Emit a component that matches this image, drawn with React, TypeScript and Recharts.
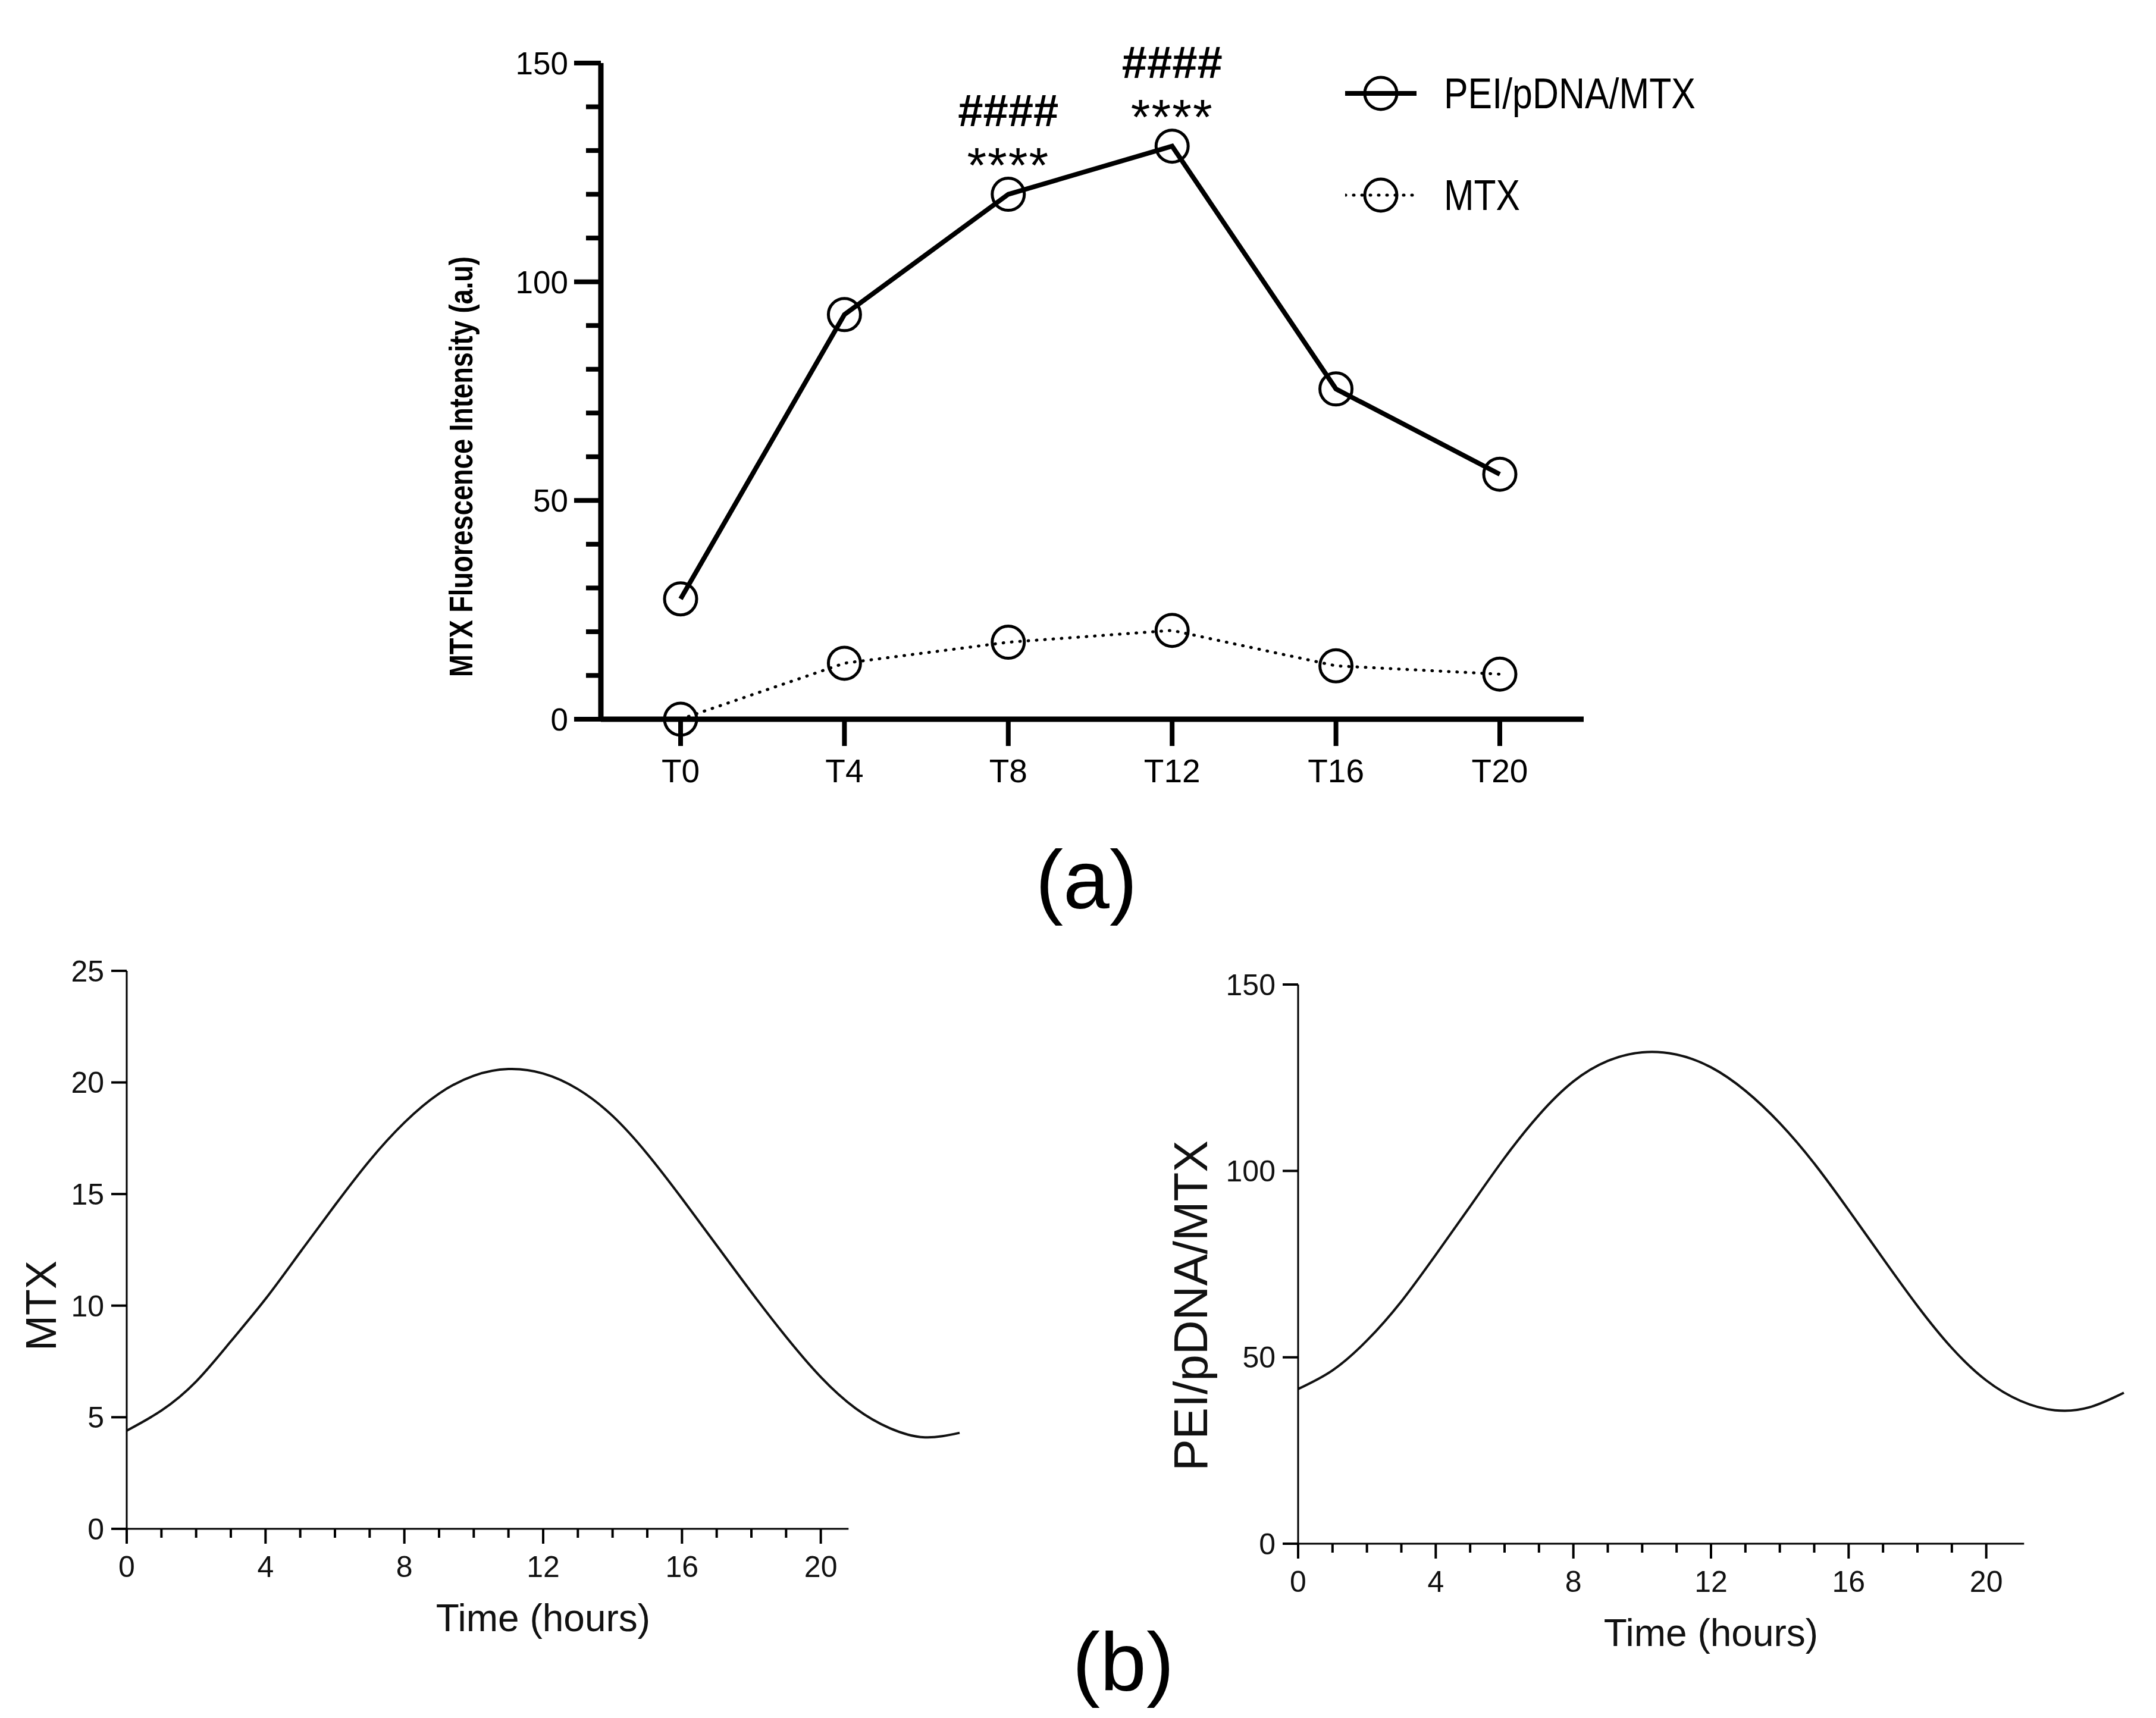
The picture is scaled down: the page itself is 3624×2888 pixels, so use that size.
import React from "react";
import {
  LineChart,
  Line,
  XAxis,
  YAxis,
  Legend,
  LabelList,
  ReferenceLine,
} from "recharts";

const FONT = '"Liberation Sans", Arial, Helvetica, sans-serif';

// panel (a): mean fluorescence per sampling time
const timepoints = ["T0", "T4", "T8", "T12", "T16", "T20"];
const peiValues = [27.5, 92.5, 120, 131, 75.5, 56];
const mtxValues = [0, 12.8, 17.6, 20.3, 12.2, 10.3];
const starMarks = ["", "", "****", "****", "", ""];
const hashMarks = ["", "", "####", "####", "", ""];
const yTicksA = [0, 10, 20, 30, 40, 50, 60, 70, 80, 90, 100, 110, 120, 130, 140, 150];

// panel (b): fitted rhythm curves, sampled every hour
const hours = [0, 1, 2, 3, 4, 5, 6, 7, 8, 9, 10, 11, 12, 13, 14, 15, 16, 17, 18, 19, 20, 21, 22, 23, 24];
const mtxCurve = [4.4, 5.3, 6.6, 8.4, 10.3, 12.4, 14.5, 16.5, 18.2, 19.5, 20.3, 20.6, 20.4, 19.7, 18.5, 16.8, 14.8, 12.7, 10.6, 8.6, 6.8, 5.4, 4.5, 4.1, 4.3];
const peiCurve = [41.5, 46.5, 54.5, 65.0, 77.5, 90.5, 103.5, 115.0, 124.0, 129.5, 131.8, 131.2, 127.8, 121.5, 112.8, 102.0, 89.5, 76.5, 63.8, 52.5, 43.8, 38.3, 35.8, 36.6, 40.5];
const hourTicks = [0, 1, 2, 3, 4, 5, 6, 7, 8, 9, 10, 11, 12, 13, 14, 15, 16, 17, 18, 19, 20];
const mtxTicks = [0, 5, 10, 15, 20, 25];
const peiTicks = [0, 50, 100, 150];

const panelAData = timepoints.map((t, i) => ({
  time: t,
  pei: peiValues[i],
  mtx: mtxValues[i],
}));
const mtxCurveData = hours.map((h, i) => ({ hour: h, value: mtxCurve[i] }));
const peiCurveData = hours.map((h, i) => ({ hour: h, value: peiCurve[i] }));

const legendItems = [
  { name: "PEI/pDNA/MTX", dotted: false, textWidth: 423 },
  { name: "MTX", dotted: true, textWidth: 128 },
];

const Y_TICK_SIZE_A = 45;
const Y_TICK_MARGIN_A = 10;

function YTickA(props: any) {
  const { x, y, payload } = props;
  const major = payload.value % 50 === 0;
  const axisX = x + Y_TICK_SIZE_A + Y_TICK_MARGIN_A;
  return (
    <g>
      <line
        x1={axisX}
        x2={axisX - (major ? Y_TICK_SIZE_A : 25)}
        y1={y}
        y2={y}
        stroke="#000"
        strokeWidth={8}
      />
      {major && (
        <text x={x} y={y} dy="0.36em" textAnchor="end" fontSize={53} fontFamily={FONT} fill="#000">
          {payload.value}
        </text>
      )}
    </g>
  );
}

function SignificanceLabel(props: any) {
  const { x, y, index } = props;
  if (!starMarks[index]) return null;
  return (
    <g fontFamily={FONT} fill="#000" textAnchor="middle">
      <text x={x} y={y - 142 + 27} fontSize={76} fontWeight="bold">
        {hashMarks[index]}
      </text>
      <text x={x} y={y - 69 + 49} fontSize={84} letterSpacing={2}>
        {starMarks[index]}
      </text>
    </g>
  );
}

function LegendA() {
  return (
    <div>
      {legendItems.map((item) => (
        <svg key={item.name} width={700} height={80} style={{ display: "block", marginBottom: 91 }}>
          <line
            x1={0}
            x2={120}
            y1={40}
            y2={40}
            stroke="#000"
            strokeWidth={item.dotted ? 5 : 8}
            strokeDasharray={item.dotted ? "1 13" : undefined}
            strokeLinecap={item.dotted ? "round" : "butt"}
          />
          <circle cx={60} cy={40} r={27} fill="none" stroke="#000" strokeWidth={5} />
          <text
            x={166}
            y={40}
            dominantBaseline="central"
            fontSize={72}
            fontFamily={FONT}
            fill="#000"
            textLength={item.textWidth}
            lengthAdjust="spacingAndGlyphs"
          >
            {item.name}
          </text>
        </svg>
      ))}
    </div>
  );
}

function PanelA() {
  return (
    <div style={{ position: "absolute", left: 0, top: 0 }}>
      <LineChart
        width={3624}
        height={1400}
        data={panelAData}
        margin={{ top: 106, right: 962, bottom: 0, left: 0 }}
      >
        <XAxis
          dataKey="time"
          padding={{ left: 134, right: 141 }}
          height={191}
          axisLine={{ stroke: "#000", strokeWidth: 9 }}
          tickLine={{ stroke: "#000", strokeWidth: 8 }}
          tickSize={45}
          tickMargin={22}
          tick={{ fontSize: 55, fontFamily: FONT, fill: "#000" }}
          interval={0}
        />
        <YAxis
          domain={[0, 150]}
          ticks={yTicksA}
          width={1010}
          interval={0}
          axisLine={{ stroke: "#000", strokeWidth: 9 }}
          tickLine={false}
          tickSize={Y_TICK_SIZE_A}
          tickMargin={Y_TICK_MARGIN_A}
          tick={(p: any) => <YTickA {...p} />}
          label={({ viewBox }: any) => {
            const cx = viewBox.x + viewBox.width - 236;
            const cy = viewBox.y + viewBox.height / 2 + 127;
            return (
              <text
                x={cx}
                y={cy}
                transform={`rotate(-90, ${cx}, ${cy})`}
                textAnchor="middle"
                dominantBaseline="central"
                fontSize={56}
                fontWeight="bold"
                fontFamily={FONT}
                fill="#000"
                textLength={707}
                lengthAdjust="spacingAndGlyphs"
              >
                MTX Fluorescence Intensity (a.u)
              </text>
            );
          }}
        />
        <Legend
          layout="vertical"
          align="center"
          verticalAlign="middle"
          wrapperStyle={{ left: 2261, top: 117, width: 700 }}
          content={() => <LegendA />}
        />
        <Line
          dataKey="mtx"
          name="MTX"
          type="linear"
          stroke="#000"
          strokeWidth={5}
          strokeDasharray="1 13"
          strokeLinecap="round"
          dot={{ r: 27, fill: "none", stroke: "#000", strokeWidth: 5, strokeDasharray: "none" }}
          activeDot={false}
          isAnimationActive={false}
        />
        <Line
          dataKey="pei"
          name="PEI/pDNA/MTX"
          type="linear"
          stroke="#000"
          strokeWidth={8}
          dot={{ r: 27, fill: "none", stroke: "#000", strokeWidth: 5 }}
          activeDot={false}
          isAnimationActive={false}
        >
          <LabelList dataKey="pei" content={(p: any) => <SignificanceLabel {...p} />} />
        </Line>
      </LineChart>
    </div>
  );
}

const X_TICK_SIZE_B = 25;
const X_TICK_MARGIN_B = 18;

function HourTick(props: any) {
  const { x, y, payload } = props;
  const major = payload.value % 4 === 0;
  const axisY = y - X_TICK_SIZE_B - X_TICK_MARGIN_B;
  return (
    <g>
      <line x1={x} x2={x} y1={axisY} y2={axisY + (major ? X_TICK_SIZE_B : 15)} stroke="#000" strokeWidth={4} />
      {major && (
        <text x={x} y={y} dy="0.76em" textAnchor="middle" fontSize={50} fontFamily={FONT} fill="#111">
          {payload.value}
        </text>
      )}
    </g>
  );
}

type CurvePanelProps = {
  left: number;
  width: number;
  data: { hour: number; value: number }[];
  yMax: number;
  yTicks: number[];
  yAxisWidth: number;
  marginTop: number;
  marginRight: number;
  xAxisHeight: number;
  axisEnd: number;
  yLabel: string;
  yLabelSize: number;
  yLabelDx: number;
  yLabelDy: number;
};

function CurvePanel(p: CurvePanelProps) {
  return (
    <div style={{ position: "absolute", left: p.left, top: 1500 }}>
      <LineChart
        width={p.width}
        height={1388}
        data={p.data}
        margin={{ top: p.marginTop, right: p.marginRight, bottom: 0, left: 0 }}
      >
        <XAxis
          dataKey="hour"
          type="number"
          domain={[0, 24]}
          ticks={hourTicks}
          interval={0}
          height={p.xAxisHeight}
          axisLine={false}
          tickLine={false}
          tickSize={X_TICK_SIZE_B}
          tickMargin={X_TICK_MARGIN_B}
          tick={(t: any) => <HourTick {...t} />}
          label={({ viewBox }: any) => (
            <text
              x={viewBox.x + viewBox.width / 2}
              y={viewBox.y + 150}
              textAnchor="middle"
              dominantBaseline="central"
              fontSize={64}
              fontFamily={FONT}
              fill="#111"
            >
              Time (hours)
            </text>
          )}
        />
        <YAxis
          domain={[0, p.yMax]}
          ticks={p.yTicks}
          interval={0}
          width={p.yAxisWidth}
          axisLine={{ stroke: "#000", strokeWidth: 3 }}
          tickLine={{ stroke: "#000", strokeWidth: 4 }}
          tickSize={26}
          tickMargin={12}
          tick={{ fontSize: 50, fontFamily: FONT, fill: "#111" }}
          label={({ viewBox }: any) => {
            const cx = viewBox.x + viewBox.width - p.yLabelDx;
            const cy = viewBox.y + viewBox.height / 2 + p.yLabelDy;
            return (
              <text
                x={cx}
                y={cy}
                transform={`rotate(-90, ${cx}, ${cy})`}
                textAnchor="middle"
                dominantBaseline="central"
                fontSize={p.yLabelSize}
                fontFamily={FONT}
                fill="#111"
              >
                {p.yLabel}
              </text>
            );
          }}
        />
        <ReferenceLine
          segment={[
            { x: 0, y: 0 },
            { x: p.axisEnd, y: 0 },
          ]}
          stroke="#000"
          strokeWidth={3}
        />
        <Line
          dataKey="value"
          type="natural"
          stroke="#111"
          strokeWidth={4}
          dot={false}
          activeDot={false}
          isAnimationActive={false}
        />
      </LineChart>
    </div>
  );
}

const panelLetter: React.CSSProperties = {
  position: "absolute",
  fontFamily: FONT,
  fontSize: 140,
  lineHeight: 1,
  color: "#000",
  transform: "translate(-50%, -50%)",
};

export default function App() {
  return (
    <div style={{ position: "absolute", left: 0, top: 0, width: 3624, height: 2888, background: "#fff" }}>
      <PanelA />
      <div style={{ ...panelLetter, left: 1826, top: 1479 }}>(a)</div>
      <CurvePanel
        left={0}
        width={1800}
        data={mtxCurveData}
        yMax={25}
        yTicks={mtxTicks}
        yAxisWidth={213}
        marginTop={132}
        marginRight={187}
        xAxisHeight={318}
        axisEnd={20.8}
        yLabel="MTX"
        yLabelSize={72}
        yLabelDx={144}
        yLabelDy={94}
      />
      <CurvePanel
        left={1800}
        width={1824}
        data={peiCurveData}
        yMax={150}
        yTicks={peiTicks}
        yAxisWidth={382}
        marginTop={155}
        marginRight={54}
        xAxisHeight={293}
        axisEnd={21.1}
        yLabel="PEI/pDNA/MTX"
        yLabelSize={80}
        yLabelDx={181}
        yLabelDy={70}
      />
      <div style={{ ...panelLetter, left: 1888, top: 2794 }}>(b)</div>
    </div>
  );
}
